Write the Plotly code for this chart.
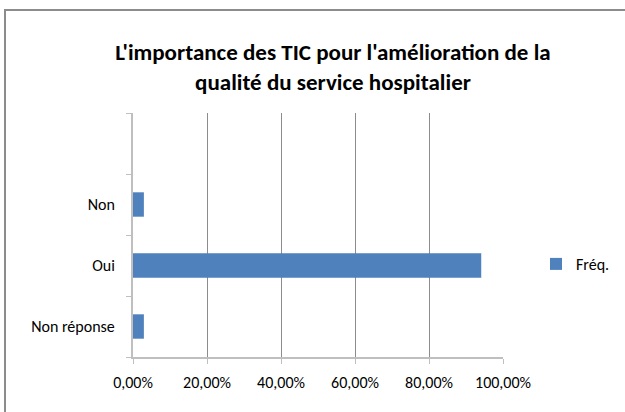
import plotly.graph_objects as go

categories = ["Non réponse", "Oui", "Non", " "]
freq = [0.0294, 0.9412, 0.0294, None]
series_name = "Fréq."
title_text = "L'importance des TIC pour l'amélioration de la<br>qualité du service hospitalier"

W, H = 625, 412
L, R, T, B = 133, 503, 113, 357

def px(x):
    return (x - L) / (R - L)

def py(y):
    return (B - y) / (B - T)

font_family = "Carlito, Liberation Sans Narrow, Open Sans, sans-serif"

fig = go.Figure()
fig.add_trace(go.Bar(
    y=categories, x=freq, orientation="h", name=series_name,
    marker=dict(color="#4f81bd", line=dict(color="#4f81bd", width=0)),
    showlegend=True,
))

fig.update_layout(
    width=W, height=H,
    margin=dict(l=L, r=W - R, t=T, b=H - B, autoexpand=False),
    paper_bgcolor="white", plot_bgcolor="white",
    separators=", ",
    bargap=0.6,
    font=dict(family=font_family, size=16, color="#000000"),
    title=dict(text="<b>" + title_text.replace("<br>", "</b><br><b>") + "</b>",
               x=333 / W, xanchor="center", y=1 - 60 / H, yanchor="middle",
               font=dict(family=font_family, size=23, color="#000000")),
    xaxis=dict(range=[0, 1], dtick=0.2, tickformat=".2%",
               showgrid=True, gridcolor="#8c8c8c", gridwidth=1,
               showline=True, linecolor="#bfbfbf", linewidth=2,
               ticks="outside", ticklen=5, tickcolor="#bfbfbf",
               zeroline=False, tickfont=dict(size=16, color="#000000"),
               ticklabelstandoff=5, automargin=False, fixedrange=True),
    yaxis=dict(type="category", categoryorder="array", categoryarray=categories,
               showgrid=False, showline=True, linecolor="#bfbfbf", linewidth=2,
               ticks="outside", ticklen=5, tickcolor="#bfbfbf", tickson="boundaries",
               tickfont=dict(size=16, color="#000000"), ticklabelstandoff=13,
               automargin=False, range=[-0.5, 3.5], fixedrange=True),
    legend=dict(x=px(536), y=py(264), xanchor="left", yanchor="middle",
                font=dict(size=16, color="#000000"), bgcolor="rgba(0,0,0,0)",
                itemwidth=30, tracegroupgap=0),
    shapes=[dict(type="path", xref="paper", yref="paper",
                 path=f"M {px(5)} {py(420)} L {px(5)} {py(10)} L {px(630)} {py(10)}",
                 line=dict(color="#8c8c8c", width=2))],
)

fig.write_html("out.html", config={"displayModeBar": False},
               post_script="document.body.style.margin='0';")
